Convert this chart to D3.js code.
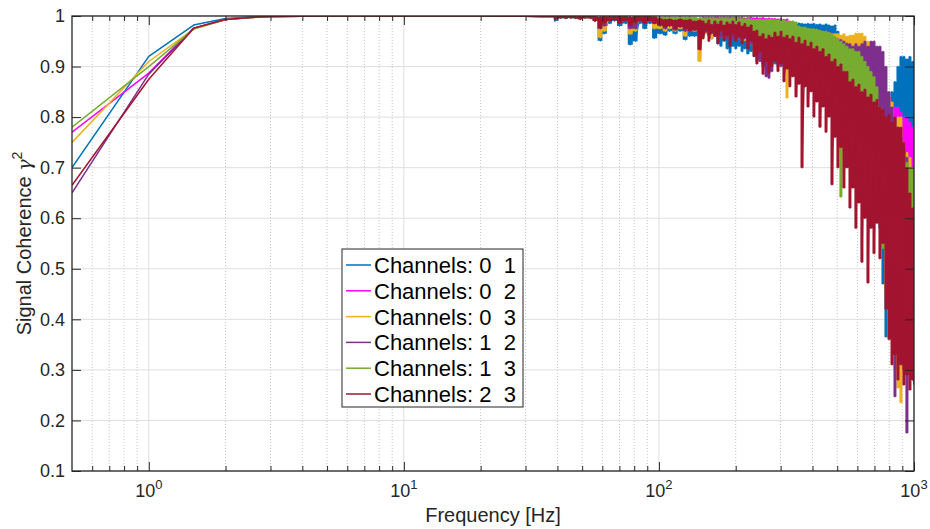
<!DOCTYPE html>
<html>
<head>
<meta charset="utf-8">
<script src="https://cdn.jsdelivr.net/npm/d3@7"></script>
<style>
  body { margin: 0; background: #fff; }
  svg { font-family: "Liberation Sans", Arial, Helvetica, sans-serif; }
  .grid-major line { stroke: #dfdfdf; stroke-width: 1; }
  .grid-minor line { stroke: #c4c4c4; stroke-width: 1; stroke-dasharray: 1 2; }
  .axis path, .axis line { stroke: #262626; }
</style>
</head>
<body>
<svg id="chart"></svg>
<script>
// ---- data ----
const xMajorTicks = [1, 10, 100, 1000];
const xTickExps = ['0', '1', '2', '3'];
const xMinorMults = [2, 3, 4, 5, 6, 7, 8, 9];
const yTicks = [0.1, 0.2, 0.3, 0.4, 0.5, 0.6, 0.7, 0.8, 0.9, 1];

// smooth low-frequency part
const lowFreqs = [0.5, 1, 1.5, 2, 2.5, 3, 4, 5, 7, 10, 15, 20, 30, 35];
const low01 = [0.70, 0.92, 0.982, 0.995, 0.998, 0.999, 0.9995, 1, 1, 1, 1, 1, 0.9995, 0.999];
const low02 = [0.77, 0.887, 0.976, 0.993, 0.997, 0.999, 0.9995, 1, 1, 1, 1, 1, 0.9995, 0.999];
const low03 = [0.75, 0.91, 0.974, 0.993, 0.997, 0.999, 0.9995, 1, 1, 1, 1, 1, 0.9995, 0.999];
const low12 = [0.65, 0.885, 0.976, 0.993, 0.997, 0.999, 0.9995, 1, 1, 1, 1, 1, 0.9995, 0.999];
const low13 = [0.78, 0.90, 0.974, 0.993, 0.997, 0.999, 0.9995, 1, 1, 1, 1, 1, 0.9995, 0.999];
const low23 = [0.665, 0.875, 0.976, 0.993, 0.997, 0.999, 0.9995, 1, 1, 1, 1, 1, 0.9995, 0.999];

// noisy part: max / min of each series inside small frequency bins
const bandFreqs = [39, 41, 43, 45, 47, 49, 51, 54, 56, 59, 61, 64, 67, 70, 74, 77, 81, 84, 88, 92,
  96, 101, 106, 110, 116, 121, 127, 132, 138, 145,
  149, 153, 157, 161, 166, 170, 175, 180, 185, 190, 195, 200,
  206, 212, 217, 223, 230, 236, 242, 249, 256, 263, 270, 277,
  285, 293, 301, 309, 318, 326, 335, 345, 354, 364, 374, 384,
  395, 405, 416, 428, 440, 452, 464, 477, 490, 503, 517, 531,
  546, 561, 576, 592, 608, 625, 642, 660, 678, 697, 716, 735,
  756, 776, 798, 820, 842, 865, 889, 913, 938, 964, 991, 1000];

const hi01 = [.999, .999, .999, .999, .999, .999, .999, .999, .999, .998, .999, .999, .999, .999, .999, .998, .999, .999, .999, .999,
  .998, .997, .996, .997, .995, .997, .996, .997, .995, .996,
  .995, .993, .995, .99, .993, .99, .992, .99, .99, .988, .99, .99,
  .99, .988, .99, .99, .988, .99, .99, .988, .99, .99, .988, .99,
  .988, .99, .988, .986, .986, .985, .986, .984, .986, .985, .984, .985,
  .984, .985, .983, .984, .982, .984, .982, .98, .982, .97, .92, .91,
  .90, .90, .89, .89, .88, .88, .88, .87, .86, .86, .85, .85,
  .84, .82, .83, .85, .87, .90, .92, .92, .915, .92, .91, .91];
const lo01 = [.99, .996, .995, .996, .995, .993, .996, .995, .99, .951, .965, .985, .99, .98, .985, .943, .95, .985, .975, .985,
  .956, .965, .962, .97, .965, .97, .953, .96, .96, .965,
  .97, .965, .96, .955, .96, .945, .94, .95, .935, .927, .94, .935,
  .94, .93, .935, .925, .93, .92, .91, .915, .905, .91, .9, .91,
  .905, .9, .91, .9, .89, .9, .895, .89, .895, .88, .89, .885,
  .89, .88, .885, .88, .875, .88, .87, .87, .875, .86, .80, .78,
  .76, .75, .74, .72, .72, .70, .70, .68, .60, .62, .60, .58,
  .47, .365, .45, .46, .45, .48, .50, .50, .52, .50, .50, .50];

const hi02 = [.999, .999, .999, .999, .999, .999, .999, .999, .999, .998, .999, .999, .999, .999, .999, .998, .999, .999, .999, .999,
  .999, .998, .998, .998, .997, .998, .997, .998, .997, .996,
  .998, .997, .998, .997, .998, .998, .997, .998, .997, .998, .997, .998,
  .997, .998, .996, .997, .998, .996, .997, .996, .997, .995, .996, .995,
  .995, .994, .995, .993, .994, .985, .98, .978, .978, .976, .975, .975,
  .974, .973, .972, .972, .97, .97, .968, .966, .965, .96, .955, .95,
  .95, .95, .945, .94, .94, .935, .93, .93, .92, .92, .90, .90,
  .90, .85, .84, .83, .82, .82, .81, .80, .80, .79, .78, .78];
const lo02 = [.995, .997, .997, .997, .997, .995, .997, .996, .993, .985, .99, .993, .995, .99, .992, .985, .985, .992, .99, .992,
  .985, .985, .98, .985, .98, .985, .98, .985, .98, .97,
  .975, .97, .975, .965, .97, .968, .965, .97, .96, .965, .96, .965,
  .96, .955, .96, .95, .955, .945, .94, .93, .935, .94, .93, .935,
  .93, .935, .925, .92, .915, .93, .92, .91, .915, .90, .91, .905,
  .90, .91, .90, .895, .90, .89, .895, .88, .89, .88, .86, .85,
  .85, .84, .84, .83, .82, .82, .81, .80, .80, .78, .75, .75,
  .70, .62, .60, .58, .56, .55, .72, .70, .70, .69, .68, .68];

const hi03 = [.999, .999, .999, .999, .999, .999, .999, .999, .999, .998, .999, .999, .999, .999, .999, .998, .999, .999, .999, .999,
  .998, .997, .997, .997, .996, .997, .996, .997, .996, .995,
  .99, .992, .99, .99, .992, .99, .99, .99, .99, .99, .99, .988,
  .99, .988, .99, .988, .988, .985, .985, .985, .984, .985, .984, .985,
  .984, .983, .984, .982, .98, .975, .978, .975, .975, .975, .974, .975,
  .972, .97, .97, .97, .968, .967, .966, .965, .965, .965, .962, .965,
  .96, .962, .962, .966, .966, .966, .96, .95, .94, .92, .92, .91,
  .90, .85, .84, .83, .80, .80, .80, .75, .73, .72, .70, .70];
const lo03 = [.993, .996, .996, .996, .996, .993, .996, .995, .99, .957, .97, .99, .992, .985, .99, .964, .97, .99, .985, .99,
  .975, .975, .97, .975, .97, .975, .96, .97, .97, .91,
  .96, .965, .96, .955, .962, .958, .96, .955, .96, .955, .958, .955,
  .955, .95, .952, .948, .945, .93, .925, .93, .92, .93, .925, .92,
  .925, .92, .915, .92, .838, .90, .905, .90, .895, .90, .89, .895,
  .89, .885, .85, .87, .865, .86, .86, .855, .85, .85, .845, .84,
  .84, .83, .82, .80, .80, .80, .78, .75, .72, .70, .70, .68,
  .55, .45, .45, .46, .30, .264, .235, .35, .32, .32, .33, .33];

const hi12 = [.999, .999, .999, .999, .999, .999, .999, .999, .999, .998, .999, .999, .999, .999, .999, .998, .999, .999, .999, .999,
  .998, .997, .997, .997, .996, .997, .996, .997, .996, .995,
  .995, .994, .995, .993, .995, .994, .995, .993, .994, .995, .993, .995,
  .994, .993, .994, .992, .993, .99, .985, .985, .984, .982, .98, .978,
  .975, .976, .975, .974, .974, .972, .97, .97, .968, .966, .965, .966,
  .965, .964, .963, .962, .963, .962, .96, .958, .956, .955, .953, .95,
  .946, .945, .94, .945, .94, .945, .95, .94, .95, .95, .94, .94,
  .93, .90, .85, .82, .80, .78, .76, .74, .72, .70, .68, .67];
const lo12 = [.994, .996, .996, .996, .996, .994, .996, .995, .99, .975, .98, .99, .992, .985, .99, .975, .975, .99, .985, .99,
  .985, .98, .975, .98, .972, .978, .97, .975, .972, .96,
  .965, .968, .962, .965, .96, .962, .958, .96, .955, .958, .955, .956,
  .955, .952, .955, .95, .945, .93, .92, .91, .90, .88, .877, .89,
  .91, .905, .90, .905, .90, .895, .90, .89, .895, .89, .885, .89,
  .88, .87, .875, .86, .87, .855, .865, .85, .86, .84, .85, .835,
  .845, .82, .84, .81, .83, .80, .82, .79, .81, .78, .80, .75,
  .70, .60, .50, .45, .247, .40, .35, .30, .175, .30, .28, .30];

const hi13 = [.999, .999, .999, .999, .999, .999, .999, .999, .999, .998, .999, .999, .999, .999, .999, .998, .999, .999, .999, .999,
  .999, .998, .998, .998, .997, .998, .997, .998, .997, .996,
  .996, .995, .996, .995, .996, .995, .995, .996, .995, .995, .996, .995,
  .995, .995, .994, .995, .994, .993, .993, .994, .993, .993, .994, .993,
  .993, .992, .993, .992, .99, .99, .99, .988, .98, .978, .978, .976,
  .975, .975, .974, .972, .97, .97, .968, .965, .96, .955, .95, .945,
  .94, .935, .935, .93, .93, .92, .91, .90, .89, .88, .86, .82,
  .80, .79, .76, .74, .73, .72, .72, .72, .71, .70, .70, .70];
const lo13 = [.994, .997, .997, .997, .997, .995, .997, .996, .992, .98, .985, .992, .995, .988, .992, .985, .985, .992, .99, .992,
  .988, .988, .985, .988, .985, .988, .985, .988, .985, .975,
  .975, .978, .972, .975, .97, .972, .97, .972, .968, .97, .968, .97,
  .968, .965, .966, .965, .962, .96, .955, .95, .952, .95, .945, .948,
  .945, .93, .942, .925, .935, .92, .932, .915, .925, .905, .92, .90,
  .91, .89, .90, .88, .89, .87, .885, .86, .88, .85, .642, .84,
  .85, .82, .84, .80, .82, .78, .79, .75, .77, .72, .75, .60,
  .54, .52, .45, .42, .40, .40, .40, .38, .36, .35, .34, .33];

const hi23 = [.999, .999, .999, .999, .999, .999, .999, .999, .999, .998, .999, .999, .999, .999, .999, .998, .999, .999, .999, .999,
  .998, .995, .993, .994, .992, .994, .992, .993, .99, .992,
  .99, .985, .992, .983, .99, .984, .99, .982, .988, .984, .99, .983,
  .988, .98, .985, .978, .982, .97, .972, .96, .965, .955, .962, .958,
  .968, .96, .97, .958, .962, .955, .96, .948, .958, .945, .952, .94,
  .948, .935, .94, .93, .935, .92, .925, .91, .915, .90, .905, .89,
  .89, .87, .875, .86, .865, .85, .855, .84, .845, .83, .835, .82,
  .815, .80, .805, .79, .80, .78, .78, .75, .70, .65, .62, .60];
const lo23 = [.993, .997, .996, .997, .996, .994, .997, .996, .99, .976, .985, .99, .992, .985, .99, .981, .985, .99, .985, .99,
  .985, .982, .978, .98, .975, .978, .975, .97, .972, .933,
  .955, .972, .95, .968, .96, .945, .97, .952, .962, .94, .965, .95,
  .96, .945, .958, .935, .95, .92, .905, .93, .885, .91, .887, .90,
  .91, .89, .905, .87, .895, .86, .88, .84, .865, .70, .86, .82,
  .85, .80, .83, .78, .82, .77, .80, .666, .76, .70, .74, .66,
  .70, .62, .66, .58, .63, .513, .60, .472, .58, .53, .59, .52,
  .55, .42, .36, .31, .33, .28, .31, .27, .29, .26, .28, .27];

const seriesNames = ['Channels: 0  1', 'Channels: 0  2', 'Channels: 0  3',
  'Channels: 1  2', 'Channels: 1  3', 'Channels: 2  3'];
const seriesColors = ['#0072BD', '#FF00FF', '#EDB120', '#7E2F8E', '#77AC30', '#A2142F'];

const seriesData = [
  { low: low01, hi: hi01, lo: lo01 },
  { low: low02, hi: hi02, lo: lo02 },
  { low: low03, hi: hi03, lo: lo03 },
  { low: low12, hi: hi12, lo: lo12 },
  { low: low13, hi: hi13, lo: lo13 },
  { low: low23, hi: hi23, lo: lo23 }
].map((s, i) => ({ ...s, name: seriesNames[i], color: seriesColors[i] }));

class CoherencePlot {
  constructor(_config, _data) {
    this.config = {
      parentElement: _config.parentElement,
      containerWidth: _config.containerWidth || 930,
      containerHeight: _config.containerHeight || 529,
      margin: _config.margin || { top: 16, right: 16, bottom: 58, left: 72 }
    };
    this.data = _data;
    this.initVis();
  }

  initVis() {
    let vis = this;

    vis.width = vis.config.containerWidth - vis.config.margin.left - vis.config.margin.right;
    vis.height = vis.config.containerHeight - vis.config.margin.top - vis.config.margin.bottom;

    vis.xScale = d3.scaleLog()
      .domain([0.5, 1000])
      .range([0, vis.width]);

    vis.yScale = d3.scaleLinear()
      .domain([0.1, 1])
      .range([vis.height, 0]);

    vis.svg = d3.select(vis.config.parentElement)
      .attr('width', vis.config.containerWidth)
      .attr('height', vis.config.containerHeight);

    vis.chart = vis.svg.append('g')
      .attr('transform', `translate(${vis.config.margin.left},${vis.config.margin.top})`);

    vis.chart.append('clipPath')
      .attr('id', 'plot-clip')
      .append('rect')
      .attr('width', vis.width)
      .attr('height', vis.height);

    // minor tick positions on the log axis
    vis.xMinor = [];
    [0.1, 1, 10, 100].forEach(dec => {
      xMinorMults.forEach(m => {
        const v = dec * m;
        if (v > 0.5 && v < 1000) vis.xMinor.push(v);
      });
    });

    // grid
    vis.chart.append('g')
      .attr('class', 'grid-minor')
      .selectAll('line')
      .data(vis.xMinor)
      .join('line')
      .attr('x1', d => vis.xScale(d))
      .attr('x2', d => vis.xScale(d))
      .attr('y1', 0)
      .attr('y2', vis.height);

    const gridMajor = vis.chart.append('g').attr('class', 'grid-major');
    gridMajor.selectAll('.gx')
      .data(xMajorTicks)
      .join('line')
      .attr('class', 'gx')
      .attr('x1', d => vis.xScale(d))
      .attr('x2', d => vis.xScale(d))
      .attr('y1', 0)
      .attr('y2', vis.height);
    gridMajor.selectAll('.gy')
      .data(yTicks)
      .join('line')
      .attr('class', 'gy')
      .attr('x1', 0)
      .attr('x2', vis.width)
      .attr('y1', d => vis.yScale(d))
      .attr('y2', d => vis.yScale(d));

    vis.linesG = vis.chart.append('g')
      .attr('clip-path', 'url(#plot-clip)');

    vis.renderVis();
  }

  renderVis() {
    let vis = this;

    const line = d3.line()
      .x(d => vis.xScale(d[0]))
      .y(d => vis.yScale(d[1]));

    // dense part is filled between the bin max and min, like a plot of many points
    const band = d3.area()
      .curve(d3.curveStep)
      .x(d => vis.xScale(d.f))
      .y0(d => vis.yScale(d.lo))
      .y1(d => vis.yScale(d.hi));

    const seriesG = vis.linesG.selectAll('.series')
      .data(vis.data)
      .join('g')
      .attr('class', 'series');

    seriesG.append('path')
      .attr('fill', d => d.color)
      .attr('stroke', 'none')
      .attr('d', s => band(bandFreqs.map((f, i) => ({ f, hi: s.hi[i], lo: s.lo[i] }))));

    // each series: smooth part, then a max/min zigzag through the noisy bins
    seriesG.append('path')
      .attr('fill', 'none')
      .attr('stroke', d => d.color)
      .attr('stroke-width', 1.5)
      .attr('stroke-linejoin', 'round')
      .attr('d', s => {
        const pts = lowFreqs.map((f, i) => [f, s.low[i]]);
        bandFreqs.forEach((f, i) => {
          pts.push([f, s.hi[i]], [f, s.lo[i]]);
        });
        return line(pts);
      });

    // axes: ticks point inward on all four sides
    const styleAxis = g => {
      g.attr('class', 'axis');
      g.select('.domain').remove();
      g.selectAll('line').attr('stroke', '#262626');
    };

    const noLabel = () => '';

    vis.chart.append('g')
      .attr('transform', `translate(0,${vis.height})`)
      .call(d3.axisBottom(vis.xScale).tickValues(xMajorTicks).tickSize(-9).tickSizeOuter(0).tickFormat(noLabel))
      .call(styleAxis);
    vis.chart.append('g')
      .attr('transform', `translate(0,${vis.height})`)
      .call(d3.axisBottom(vis.xScale).tickValues(vis.xMinor).tickSize(-5).tickSizeOuter(0).tickFormat(noLabel))
      .call(styleAxis);
    vis.chart.append('g')
      .call(d3.axisTop(vis.xScale).tickValues(xMajorTicks).tickSize(-9).tickSizeOuter(0).tickFormat(noLabel))
      .call(styleAxis);
    vis.chart.append('g')
      .call(d3.axisTop(vis.xScale).tickValues(vis.xMinor).tickSize(-5).tickSizeOuter(0).tickFormat(noLabel))
      .call(styleAxis);

    const yAxisG = vis.chart.append('g')
      .call(d3.axisLeft(vis.yScale).tickValues(yTicks).tickSize(-9).tickSizeOuter(0).tickPadding(7).tickFormat(d3.format('~g')))
      .call(styleAxis);
    yAxisG.attr('font-size', 18).attr('font-family', null);
    yAxisG.selectAll('text').attr('fill', '#262626');

    vis.chart.append('g')
      .attr('transform', `translate(${vis.width},0)`)
      .call(d3.axisRight(vis.yScale).tickValues(yTicks).tickSize(-9).tickSizeOuter(0).tickFormat(noLabel))
      .call(styleAxis);

    // x tick labels 10^n
    const xLab = vis.chart.append('g')
      .selectAll('text')
      .data(xMajorTicks)
      .join('text')
      .attr('x', d => vis.xScale(d))
      .attr('y', vis.height + 26)
      .attr('text-anchor', 'middle')
      .attr('fill', '#262626')
      .attr('font-size', 18);
    xLab.append('tspan').text('10');
    xLab.append('tspan')
      .attr('dy', -8)
      .attr('font-size', 13)
      .text((d, i) => xTickExps[i]);

    // box
    vis.chart.append('rect')
      .attr('width', vis.width)
      .attr('height', vis.height)
      .attr('fill', 'none')
      .attr('stroke', '#262626')
      .attr('stroke-width', 1.3);

    // axis labels
    vis.chart.append('text')
      .attr('x', vis.width / 2)
      .attr('y', vis.height + 51)
      .attr('text-anchor', 'middle')
      .attr('font-size', 20)
      .attr('fill', '#262626')
      .text('Frequency [Hz]');

    const yLab = vis.chart.append('text')
      .attr('transform', `translate(${-41},${vis.height / 2}) rotate(-90)`)
      .attr('text-anchor', 'middle')
      .attr('font-size', 20)
      .attr('fill', '#262626');
    yLab.append('tspan').text('Signal Coherence ');
    yLab.append('tspan')
      .attr('font-family', '"DejaVu Serif", "Liberation Serif", serif')
      .attr('font-style', 'italic')
      .attr('font-size', 19)
      .text('\u03B3');
    yLab.append('tspan')
      .attr('dy', -9)
      .attr('font-size', 14)
      .text('2');

    // legend
    const legend = vis.svg.append('g')
      .attr('class', 'legend')
      .attr('transform', 'translate(342,249)');

    legend.append('rect')
      .attr('width', 181)
      .attr('height', 158)
      .attr('fill', '#fff')
      .attr('stroke', '#262626')
      .attr('stroke-width', 1);

    vis.data.forEach((s, i) => {
      const row = legend.append('g')
        .attr('transform', `translate(0, ${16 + i * 25.8})`);

      row.append('line')
        .attr('x1', 4)
        .attr('x2', 29)
        .attr('stroke', s.color)
        .attr('stroke-width', 1.5);

      row.append('text')
        .attr('x', 32)
        .attr('dy', '0.36em')
        .attr('font-size', 22)
        .attr('fill', '#000')
        .style('white-space', 'pre')
        .text(s.name);
    });
  }
}

new CoherencePlot({ parentElement: '#chart' }, seriesData);
</script>
</body>
</html>
